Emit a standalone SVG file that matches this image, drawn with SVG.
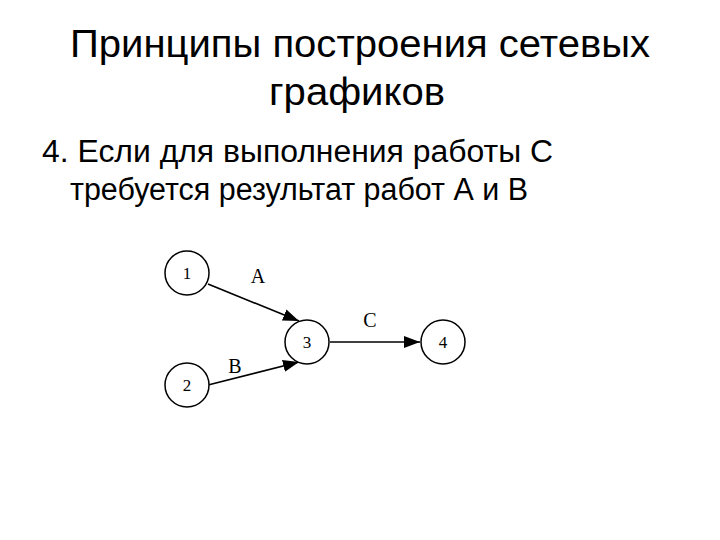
<svg xmlns="http://www.w3.org/2000/svg" width="720" height="540" viewBox="0 0 720 540">
<style>
.t{font-family:"Liberation Sans",Arial,sans-serif;fill:#000}
.n circle{fill:#fff;stroke:#000;stroke-width:1.5}
.n text,.lbl{font-family:"Liberation Serif","Times New Roman",serif;fill:#000;text-anchor:middle}
.e{stroke:#000;stroke-width:1.6;fill:none;marker-end:url(#ah)}
</style>
<defs>
<marker id="ah" viewBox="0 0 16 12" refX="16" refY="6" markerWidth="16" markerHeight="12" markerUnits="userSpaceOnUse" orient="auto">
<path d="M0,0 L16,6 L0,12 z" fill="#000"/>
</marker>
</defs>
<rect width="720" height="540" fill="#fff"/>
<g id="title">
<text class="t" x="360" y="57" font-size="38" text-anchor="middle" textLength="580" lengthAdjust="spacingAndGlyphs">Принципы построения сетевых</text>
<text class="t" x="357" y="105" font-size="38" text-anchor="middle" textLength="176" lengthAdjust="spacingAndGlyphs">графиков</text>
</g>
<g id="body">
<text class="t" x="42" y="162" font-size="31" textLength="511" lengthAdjust="spacingAndGlyphs">4. Если для выполнения работы С</text>
<text class="t" x="70" y="200" font-size="31" textLength="458" lengthAdjust="spacingAndGlyphs">требуется результат работ А и В</text>
</g>
<g id="connectors">
<line class="e" x1="208" y1="284" x2="299" y2="321"/>
<line class="e" x1="208" y1="385" x2="299" y2="362"/>
<line class="e" x1="330" y1="342" x2="420" y2="342"/>
<text class="lbl" x="258" y="283" font-size="20">A</text>
<text class="lbl" x="235" y="373" font-size="20">B</text>
<text class="lbl" x="370" y="327" font-size="20">C</text>
</g>
<g id="node1" class="n"><circle cx="187" cy="273" r="22"/><text x="187" y="279" font-size="17">1</text></g>
<g id="node2" class="n"><circle cx="187" cy="385" r="22"/><text x="187" y="391" font-size="17">2</text></g>
<g id="node3" class="n"><circle cx="307" cy="342" r="22"/><text x="307" y="348" font-size="17">3</text></g>
<g id="node4" class="n"><circle cx="443" cy="342" r="22"/><text x="443" y="348" font-size="17">4</text></g>
</svg>
